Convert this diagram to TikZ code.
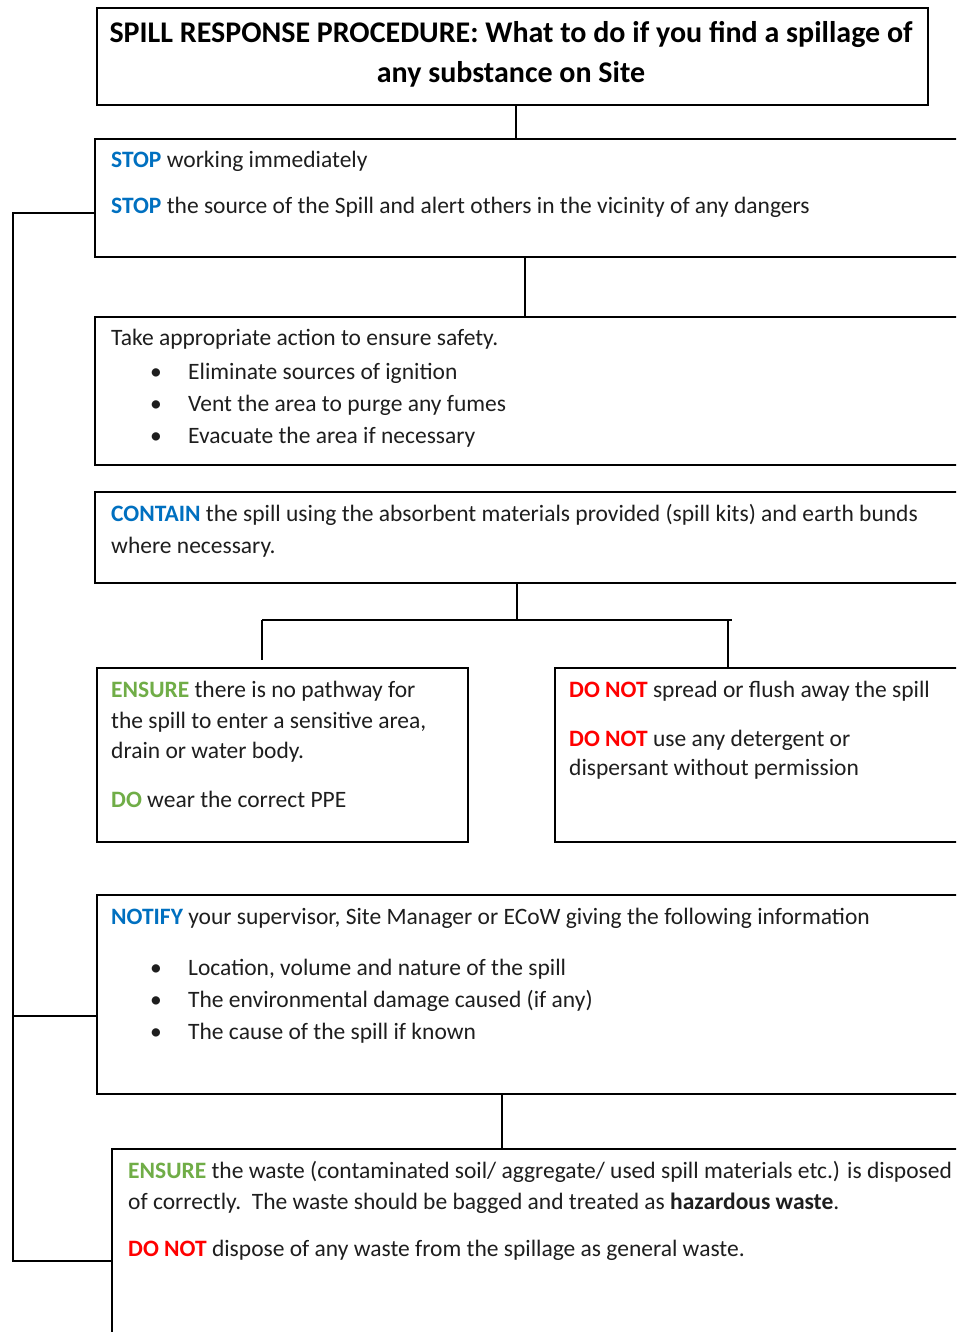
\documentclass[tikz,border=0pt]{standalone}
\usepackage{fontspec}
\setmainfont{Carlito}
\definecolor{stopblue}{RGB}{0,112,192}
\definecolor{okgreen}{RGB}{112,173,71}
\definecolor{nored}{RGB}{255,0,0}
\definecolor{ink}{RGB}{30,30,30}
\newcommand{\kwblue}[1]{\textbf{\color{stopblue}#1}}
\newcommand{\kwgreen}[1]{\textbf{\color{okgreen}#1}}
\newcommand{\kwred}[1]{\textbf{\color{nored}#1}}
\begin{document}
\begin{tikzpicture}[x=1pt,y=-1pt,
  box/.style={draw, line width=1.5pt, rectangle, inner sep=0pt},
  link/.style={draw, line width=1.2pt},
  txt/.style={anchor=base west, inner sep=0pt, text=ink, font=\fontsize{23.5}{29}\selectfont},
  bul/.style={anchor=base west, inner sep=0pt, text=ink, font=\fontsize{23.5}{29}\selectfont},
  ttl/.style={anchor=base, inner sep=0pt, text=black, font=\fontsize{30}{40}\selectfont\bfseries}]
\useasboundingbox (0,0) rectangle (956,1332);
\clip (0,0) rectangle (956,1332);
\fill[white] (0,0) rectangle (956,1332);

% boxes
\node[box, minimum width=831pt, minimum height=97pt] (b0) at (512.5,56.5) {};
\node[box, minimum width=875pt, minimum height=118pt] (b1) at (532.5,198) {};
\node[box, minimum width=875pt, minimum height=148pt] (b2) at (532.5,391) {};
\node[box, minimum width=875pt, minimum height=91pt] (b3) at (532.5,537.5) {};
\node[box, minimum width=371pt, minimum height=174pt] (b4a) at (282.5,755) {};
\node[box, minimum width=415pt, minimum height=174pt] (b4b) at (762.5,755) {};
\node[box, minimum width=873pt, minimum height=199pt] (b5) at (533.5,994.5) {};
\node[box, minimum width=858pt, minimum height=196pt] (b6) at (541,1247) {};

% connector positions
\coordinate (x1) at (516,0);
\coordinate (x2) at (525,0);
\coordinate (x3) at (517,0);
\coordinate (x5) at (502,0);
\coordinate (split) at (517,620);
\coordinate (splitL) at (262,620);
\coordinate (splitR) at (732,620);
\coordinate (dropL) at (262,660);
\coordinate (dropR) at (728,620);
\coordinate (busTop) at (13,213);
\coordinate (busMid) at (13,1016);
\coordinate (busBot) at (13,1261);

\draw[link] (b0.south -| x1) -- (b1.north -| x1);
\draw[link] (b1.south -| x2) -- (b2.north -| x2);
\draw[link] (b3.south -| x3) -- (split);
\draw[link] (splitL) -- (splitR);
\draw[link] (splitL) -- (dropL);
\draw[link] (dropR) -- (b4b.north -| dropR);
\draw[link] (b5.south -| x5) -- (b6.north -| x5);
\draw[link] (b1.west |- busTop) -- (busTop) -- (busBot) -- (b6.west |- busBot);
\draw[link] (busMid) -- (b5.west |- busMid);

% title
\node[ttl] (t0a) at (511,43) {SPILL RESPONSE PROCEDURE: What to do if you find a spillage of};
\node[ttl] (t0b) at (511,83) {any substance on Site};

% stop
\node[txt] (t1a) at (111,168) {\kwblue{STOP} working immediately};
\node[txt] (t1b) at (111,214) {\kwblue{STOP} the source of the Spill and alert others in the vicinity of any dangers};

% safety
\node[txt] (t2a) at (111,345) {Take appropriate action to ensure safety.};
\node[bul] (p2a) at (150,379) {\textbullet};
\node[txt] (t2b) at (188,379) {Eliminate sources of ignition};
\node[bul] (p2b) at (150,411) {\textbullet};
\node[txt] (t2c) at (188,411) {Vent the area to purge any fumes};
\node[bul] (p2c) at (150,443) {\textbullet};
\node[txt] (t2d) at (188,443) {Evacuate the area if necessary};

% contain
\node[txt] (t3a) at (111,521) {\kwblue{CONTAIN} the spill using the absorbent materials provided (spill kits) and earth bunds};
\node[txt] (t3b) at (111,553) {where necessary.};

% ensure / do
\node[txt] (t4a) at (111,697) {\kwgreen{ENSURE} there is no pathway for};
\node[txt] (t4b) at (111,728) {the spill to enter a sensitive area,};
\node[txt] (t4c) at (111,758) {drain or water body.};
\node[txt] (t4d) at (111,807) {\kwgreen{DO} wear the correct PPE};

% do not
\node[txt] (t5a) at (569,697) {\kwred{DO NOT} spread or flush away the spill};
\node[txt] (t5b) at (569,746) {\kwred{DO NOT} use any detergent or};
\node[txt] (t5c) at (569,775) {dispersant without permission};

% notify
\node[txt] (t6a) at (111,924) {\kwblue{NOTIFY} your supervisor, Site Manager or ECoW giving the following information};
\node[bul] (p6a) at (150,975) {\textbullet};
\node[txt] (t6b) at (188,975) {Location, volume and nature of the spill};
\node[bul] (p6b) at (150,1007) {\textbullet};
\node[txt] (t6c) at (188,1007) {The environmental damage caused (if any)};
\node[bul] (p6c) at (150,1039) {\textbullet};
\node[txt] (t6d) at (188,1039) {The cause of the spill if known};

% waste
\node[txt] (t7a) at (128,1178) {\kwgreen{ENSURE} the waste (contaminated soil/ aggregate/ used spill materials etc.) is disposed};
\node[txt] (t7b) at (128,1209) {of correctly.\ \ The waste should be bagged and treated as \textbf{hazardous waste}.};
\node[txt] (t7c) at (128,1256) {\kwred{DO NOT} dispose of any waste from the spillage as general waste.};
\end{tikzpicture}
\end{document}
